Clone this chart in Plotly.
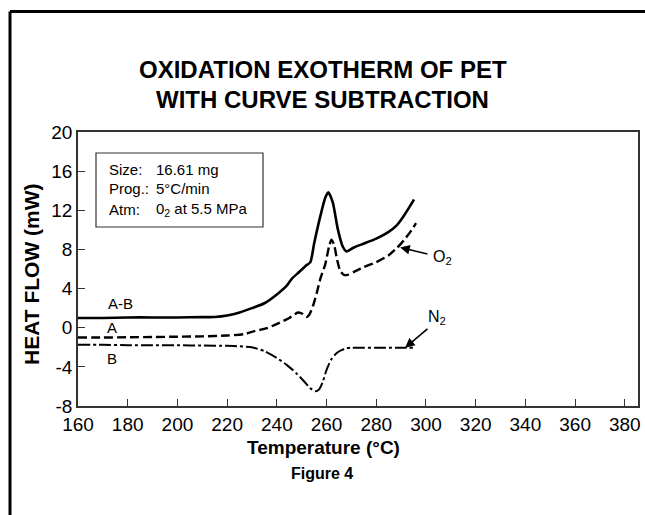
import plotly.graph_objects as go

# ---------------- data ----------------
temp_ab = [160, 170, 180, 190, 200, 210, 215, 220, 225, 230, 235, 240, 244, 246, 249, 252, 253.5,
           255, 257.5, 259.5, 260.7, 262.5, 264.5, 266.5, 268, 271, 275, 280, 285, 288, 291, 293, 295.2]
heat_ab = [1.0, 1.0, 1.05, 1.05, 1.05, 1.08, 1.1, 1.25, 1.55, 2.0, 2.5, 3.4, 4.3, 5.0, 5.7, 6.4, 6.7,
           8.6, 11.4, 13.3, 13.85, 12.8, 10.1, 8.3, 7.8, 8.2, 8.6, 9.1, 9.8, 10.4, 11.4, 12.2, 13.1]

temp_a = [160, 170, 180, 190, 200, 210, 220, 227, 231, 236, 241, 245, 248.5, 250.5, 252, 253, 254.5,
          256, 257.5, 259.5, 261, 262, 263, 264.2, 265.5, 267, 268.5, 271, 275, 280, 285, 288.5, 291, 294, 296]
heat_a = [-1.0, -1.0, -0.98, -0.95, -0.92, -0.88, -0.8, -0.65, -0.35, -0.05, 0.5, 1.0, 1.55, 1.4, 1.1, 1.3, 2.2,
          3.5, 5.0, 6.5, 8.3, 9.0, 8.5, 7.0, 5.8, 5.4, 5.4, 5.7, 6.2, 6.7, 7.4, 8.2, 8.9, 9.9, 10.7]

temp_b = [160, 170, 180, 190, 200, 210, 220, 225, 230, 235, 240, 244, 248, 251, 253.5, 255.5, 257,
          258.5, 260, 262, 264, 266, 268, 270, 275, 280, 285, 290, 295]
heat_b = [-1.75, -1.75, -1.78, -1.8, -1.8, -1.82, -1.85, -1.9, -2.0, -2.4, -3.1, -3.8, -4.7, -5.5, -6.2, -6.5, -6.3,
          -5.5, -4.3, -3.2, -2.6, -2.3, -2.1, -2.05, -2.05, -2.05, -2.05, -2.05, -2.05]

x_ticks = [160, 180, 200, 220, 240, 260, 280, 300, 320, 340, 360, 380]
x_tick_labels = ["160", "180", "200", "220", "240", "260", "280", "300", "320", "340", "360", "380"]
y_ticks = [-8, -4, 0, 4, 8, 12, 16, 20]
y_tick_labels = ["-8", "-4", "0", "4", "8", "12", "16", "20"]

title_lines = ["OXIDATION EXOTHERM OF PET", "WITH CURVE SUBTRACTION"]
info_keys = ["Size:", "Prog.:", "Atm:"]
info_vals = ["16.61 mg", "5°C/min", "0<sub>2</sub> at 5.5 MPa"]

# ---------------- layout geometry ----------------
W, H = 645, 515
PLOT_L, PLOT_R, PLOT_T, PLOT_B = 78, 638, 132, 406
ML, MR, MT, MB = PLOT_L, W - PLOT_R, PLOT_T, H - PLOT_B
PW, PH = PLOT_R - PLOT_L, PLOT_B - PLOT_T


def px(x):
    return (x - PLOT_L) / PW


def py(y):
    return (PLOT_B - y) / PH


FONT = "Liberation Sans, Arial, Helvetica, sans-serif"

fig = go.Figure()
fig.add_trace(go.Scatter(x=temp_ab, y=heat_ab, mode="lines", line=dict(color="black", width=2.6, shape="spline", smoothing=0.6)))
fig.add_trace(go.Scatter(x=temp_a, y=heat_a, mode="lines", line=dict(color="black", width=2.4, dash="9px,4px", shape="spline", smoothing=0.6)))
fig.add_trace(go.Scatter(x=temp_b, y=heat_b, mode="lines", line=dict(color="black", width=2.0, dash="12px,3px,3px,3px", shape="spline", smoothing=0.6)))

ann = []
for i, t in enumerate(title_lines):
    ann.append(dict(text="<b>%s</b>" % t, x=px(322.5), y=py(70 + i * 30), xref="paper", yref="paper",
                    xanchor="center", yanchor="middle", showarrow=False, font=dict(size=24, family=FONT, color="black")))

ann.append(dict(text="<b>HEAT FLOW (mW)</b>", x=px(31), y=py(274), xref="paper", yref="paper", textangle=-90,
                xanchor="center", yanchor="middle", showarrow=False, font=dict(size=21, family=FONT, color="black")))
ann.append(dict(text="<b>Temperature (°C)</b>", x=px(323), y=py(447), xref="paper", yref="paper",
                xanchor="center", yanchor="middle", showarrow=False, font=dict(size=19, family=FONT, color="black")))
ann.append(dict(text="<b>Figure 4</b>", x=px(322), y=py(473), xref="paper", yref="paper",
                xanchor="center", yanchor="middle", showarrow=False, font=dict(size=16, family=FONT, color="black")))

info_y = [169, 188.5, 209.5]
for k, v, yy in zip(info_keys, info_vals, info_y):
    ann.append(dict(text=k, x=px(107), y=py(yy), xref="paper", yref="paper", xanchor="left", yanchor="middle",
                    showarrow=False, font=dict(size=15, family=FONT, color="black")))
    ann.append(dict(text=v, x=px(154), y=py(yy), xref="paper", yref="paper", xanchor="left", yanchor="middle",
                    showarrow=False, font=dict(size=15, family=FONT, color="black")))

# curve labels
ann.append(dict(text="A-B", x=177, y=2.5, xref="x", yref="y", showarrow=False, font=dict(size=15, family=FONT, color="black")))
ann.append(dict(text="A", x=173.5, y=0.0, xref="x", yref="y", showarrow=False, font=dict(size=15, family=FONT, color="black")))
ann.append(dict(text="B", x=173.5, y=-3.1, xref="x", yref="y", showarrow=False, font=dict(size=15, family=FONT, color="black")))

# arrows
ann.append(dict(text="", x=289.6, y=8.2, ax=301.2, ay=7.5, xref="x", yref="y", axref="x", ayref="y",
                showarrow=True, arrowhead=2, arrowsize=1.2, arrowwidth=1.6, arrowcolor="black"))
ann.append(dict(text="", x=291.6, y=-2.05, ax=301.2, ay=0.0, xref="x", yref="y", axref="x", ayref="y",
                showarrow=True, arrowhead=2, arrowsize=1.2, arrowwidth=1.6, arrowcolor="black"))
ann.append(dict(text="O<sub>2</sub>", x=306.5, y=7.2, xref="x", yref="y", showarrow=False,
                font=dict(size=16, family=FONT, color="black")))
ann.append(dict(text="N<sub>2</sub>", x=304.5, y=1.0, xref="x", yref="y", showarrow=False,
                font=dict(size=16, family=FONT, color="black")))

shapes = [
    # info box
    dict(type="rect", xref="paper", yref="paper", x0=px(96), x1=px(263), y0=py(153), y1=py(227),
         line=dict(color="#333", width=1.2)),
    # outer frame
    dict(type="line", xref="paper", yref="paper", x0=px(10), x1=px(700), y0=py(11.5), y1=py(11.5),
         line=dict(color="black", width=3)),
    dict(type="line", xref="paper", yref="paper", x0=px(10), x1=px(10), y0=py(11.5), y1=py(600),
         line=dict(color="black", width=3)),
]

fig.update_layout(
    width=W, height=H, margin=dict(l=ML, r=MR, t=MT, b=MB, autoexpand=False),
    paper_bgcolor="white", plot_bgcolor="white", showlegend=False,
    annotations=ann, shapes=shapes,
    font=dict(family=FONT, color="black"),
)
fig.update_xaxes(range=[160, 385.3], tickvals=x_ticks, ticktext=x_tick_labels, ticks="inside", ticklen=7,
                 tickcolor="#333", tickwidth=1.2, showline=True, linecolor="#333", linewidth=1.5, mirror=True,
                 showgrid=False, zeroline=False, tickfont=dict(size=19, family=FONT, color="black"))
fig.update_yaxes(range=[-8, 20], tickvals=y_ticks, ticktext=y_tick_labels, ticks="inside", ticklen=7,
                 tickcolor="#333", tickwidth=1.2, showline=True, linecolor="#333", linewidth=1.5, mirror=True,
                 showgrid=False, zeroline=False, tickfont=dict(size=19, family=FONT, color="black"))

page_fix = ("document.documentElement.style.overflow='hidden';"
            "document.body.style.overflow='hidden';"
            "document.body.style.margin='0';")
fig.write_html("out.html", post_script=page_fix, config={"displayModeBar": False})
